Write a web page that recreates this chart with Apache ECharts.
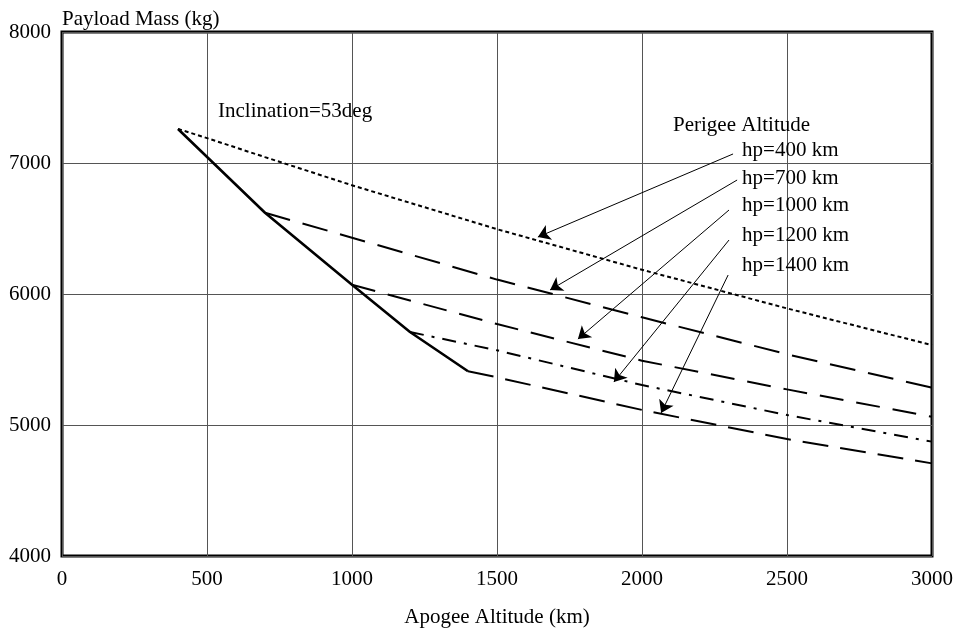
<!DOCTYPE html>
<html>
<head>
<meta charset="utf-8">
<script src="https://cdn.jsdelivr.net/npm/echarts@6/dist/echarts.min.js"></script>
<style>
html,body{margin:0;padding:0;background:#fff;}
#chart{width:955px;height:629px;}
</style>
</head>
<body>
<div id="chart"></div>
<script>
// ---- data ----
const envelopeX = [400, 700, 1000, 1200, 1400];
const envelopeY = [7260, 6620, 6070, 5710, 5410];

const hp400X = [400, 500, 700, 1000, 1500, 2000, 2500, 3000];
const hp400Y = [7260, 7190, 7045, 6830, 6495, 6185, 5890, 5610];

const hp700X = [700, 1000, 1500, 2000, 2500, 3000];
const hp700Y = [6620, 6430, 6110, 5822, 5540, 5285];

const hp1000X = [1000, 1500, 2000, 2500, 3000];
const hp1000Y = [6070, 5771, 5491, 5272, 5063];

const hp1200X = [1200, 1500, 2000, 2500, 3000];
const hp1200Y = [5710, 5570, 5305, 5076, 4873];

const hp1400X = [1400, 1500, 2000, 2500, 3000];
const hp1400Y = [5410, 5364, 5115, 4893, 4707];

// annotation text and anchor (data coordinates)
const noteTexts = ['Inclination=53deg', 'Perigee Altitude', 'hp=400 km', 'hp=700 km', 'hp=1000 km', 'hp=1200 km', 'hp=1400 km'];
const noteX = [538, 2107, 2345, 2345, 2345, 2345, 2345];
const noteY = [7397, 7290, 7099, 6885, 6672, 6450, 6221];

// arrows: from label to curve (data coordinates)
const arrowFromX = [2314, 2328, 2300, 2300, 2297];
const arrowFromY = [7069, 6870, 6641, 6412, 6145];
const arrowToX = [1641, 1683, 1779, 1903, 2066];
const arrowToY = [6435, 6031, 5656, 5328, 5092];

const xTicks = [0, 500, 1000, 1500, 2000, 2500, 3000];
const yTicks = [4000, 5000, 6000, 7000, 8000];

const FONT = '"Liberation Serif", "Times New Roman", serif';
const FS = 21;

function pairs(xs, ys) { return xs.map((x, i) => [x, ys[i]]); }

const chart = echarts.init(document.getElementById('chart'), null, {renderer: 'canvas'});

function curve(name, xs, ys, width, dash) {
  return {
    name: name, type: 'line', data: pairs(xs, ys),
    showSymbol: false, symbol: 'none', smooth: false, z: 3,
    lineStyle: {color: '#000', width: width, type: dash}
  };
}

const option = {
  animation: false,
  backgroundColor: '#fff',
  grid: {left: 62, right: 23, top: 32, bottom: 73, show: true, borderColor: '#000', borderWidth: 3,
    backgroundColor: 'transparent', containLabel: false, outerBoundsMode: 'none'},
  xAxis: {
    type: 'value', min: xTicks[0], max: xTicks[xTicks.length - 1], interval: 500,
    name: 'Apogee Altitude (km)', nameLocation: 'middle', nameGap: 51,
    nameTextStyle: {fontFamily: FONT, fontSize: FS, color: '#000'},
    axisLine: {show: false},
    axisTick: {show: false},
    axisLabel: {fontFamily: FONT, fontSize: FS, color: '#000', margin: 13, formatter: v => String(v)},
    splitLine: {show: true, lineStyle: {color: '#555', width: 1}}
  },
  yAxis: {
    type: 'value', min: yTicks[0], max: yTicks[yTicks.length - 1], interval: 1000,
    name: 'Payload Mass (kg)', nameLocation: 'end', nameGap: 2,
    nameTextStyle: {fontFamily: FONT, fontSize: FS, color: '#000', align: 'left'},
    axisLine: {show: false},
    axisTick: {show: false},
    axisLabel: {fontFamily: FONT, fontSize: FS, color: '#000', margin: 11, formatter: v => String(v)},
    splitLine: {show: true, lineStyle: {color: '#555', width: 1}}
  },
  series: [
    curve('envelope', envelopeX, envelopeY, 2.6, 'solid'),
    curve('hp=400 km', hp400X, hp400Y, 2, [4, 3]),
    curve('hp=700 km', hp700X, hp700Y, 2, [26, 13]),
    curve('hp=1000 km', hp1000X, hp1000Y, 2, [24, 13]),
    curve('hp=1200 km', hp1200X, hp1200Y, 2, [14, 8, 3, 8]),
    curve('hp=1400 km', hp1400X, hp1400Y, 2, [26, 12]),
    {
      type: 'lines', coordinateSystem: 'cartesian2d', z: 4,
      symbol: ['none', 'arrow'], symbolSize: [6, 12],
      lineStyle: {color: '#000', width: 1, opacity: 1, curveness: 0},
      data: arrowFromX.map((x, i) => ({coords: [[x, arrowFromY[i]], [arrowToX[i], arrowToY[i]]]}))
    },
    {
      type: 'scatter', symbolSize: 0, z: 5, silent: true,
      itemStyle: {opacity: 1, color: '#000'},
      data: noteTexts.map((t, i) => ({name: t, value: [noteX[i], noteY[i]]})),
      label: {show: true, position: 'right', distance: 0, formatter: p => p.name,
        fontFamily: FONT, fontSize: FS, color: '#000', opacity: 1, textBorderWidth: 0}
    }
  ]
};
chart.setOption(option);
</script>
</body>
</html>
